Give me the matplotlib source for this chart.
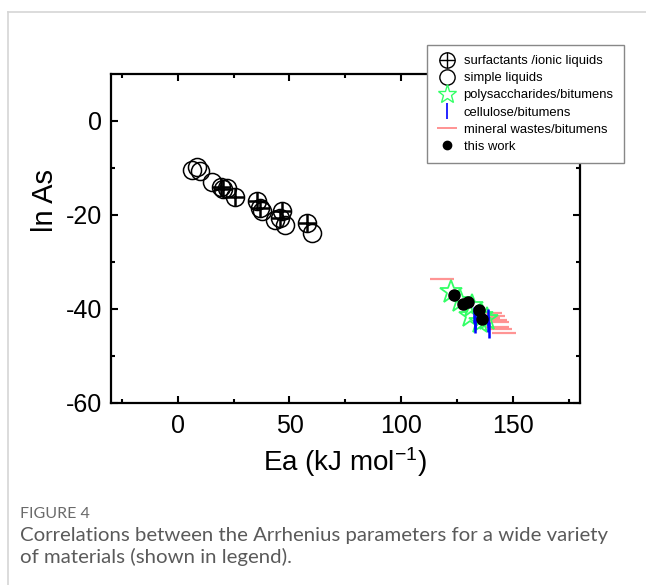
import matplotlib
matplotlib.use("Agg")
import matplotlib.pyplot as plt
from matplotlib.lines import Line2D
from matplotlib.legend_handler import HandlerTuple

plt.rcParams['font.family'] = ['Liberation Sans', 'DejaVu Sans']
plt.rcParams['mathtext.fontset'] = 'custom'
plt.rcParams['mathtext.rm'] = 'Liberation Sans'
plt.rcParams['mathtext.it'] = 'Liberation Sans:italic'
plt.rcParams['axes.unicode_minus'] = False

# ---- data ----
simple_x = [6.3, 8.5, 10.0, 15.2, 21.9, 37.6, 43.6, 48.0, 60.0]
simple_y = [-10.4, -9.7, -10.6, -12.9, -14.3, -19.2, -21.0, -22.1, -23.8]

surf_x = [19.2, 20.3, 25.6, 35.4, 36.8, 46.6, 45.8, 57.7]
surf_y = [-14.1, -14.4, -16.1, -17.1, -18.5, -19.2, -20.6, -21.7]

poly_x = [122.2, 126.4, 131.6, 130.8, 136.1, 135.3, 138.5]
poly_y = [-36.5, -38.3, -39.5, -41.5, -41.5, -42.9, -42.2]

cell_x = [132.6, 132.8, 133.0, 138.9, 139.0, 139.1]
cell_y = [-41.4, -42.6, -43.5, -41.8, -43.3, -44.6]

min_x = [118.2, 139.8, 141.1, 142.0, 143.0, 143.0, 144.0, 146.0, 139.0]
min_y = [-33.6, -40.8, -41.5, -42.3, -42.8, -43.9, -44.3, -45.2, -42.0]

work_x = [123.4, 127.8, 130.1, 134.6, 136.1]
work_y = [-37.1, -39.0, -38.5, -40.2, -42.2]

xlim = (-30, 180)
ylim = (-60, 10)
xticks = [0, 50, 100, 150]
yticks = [0, -20, -40, -60]

W, H = 646, 585
fig = plt.figure(figsize=(W / 100, H / 100), dpi=100)
ax = fig.add_axes([110.7 / W, 1 - 402.7 / H, (580 - 110.7) / W, (402.7 - 74) / H])

green = '#33FF66'
ms = 13

# mineral wastes
ax.plot(min_x, min_y, ls='none', marker='_', ms=17, mew=1.6, color='#FF7070', alpha=0.75)
# polysaccharides
ax.plot(poly_x, poly_y, ls='none', marker='*', ms=17, mfc='none', mec=green, mew=1.3)
# cellulose
ax.plot(cell_x, cell_y, ls='none', marker='|', ms=12, mew=1.8, color='#0000FF')
# simple liquids
ax.plot(simple_x, simple_y, ls='none', marker='o', ms=ms, mfc='none', mec='black', mew=1.1)
# surfactants
ax.plot(surf_x, surf_y, ls='none', marker='o', ms=ms, mfc='none', mec='black', mew=1.1)
ax.plot(surf_x, surf_y, ls='none', marker='+', ms=ms, mec='black', mew=1.8)
# this work
ax.plot(work_x, work_y, ls='none', marker='o', ms=8, color='black')

ax.set_xlim(*xlim)
ax.set_ylim(*ylim)
ax.set_xticks(xticks)
ax.set_yticks(yticks)
ax.set_xticks([-25, 25, 75, 125, 175], minor=True)
ax.set_yticks([-10, -30, -50], minor=True)
ax.tick_params(which='both', direction='in', top=True, right=True, width=1.5)
ax.tick_params(which='major', length=5, labelsize=18)
ax.tick_params(which='minor', length=3)
ax.tick_params(axis='x', pad=8)
ax.tick_params(axis='y', pad=6)
for s in ax.spines.values():
    s.set_linewidth(1.6)

fig.text(345 / W, 1 - 462 / H, 'Ea (kJ mol$^{-1}$)', fontsize=20, ha='center', va='center')
fig.text(45 / W, 1 - 200 / H, 'ln As', fontsize=21, ha='center', va='center', rotation=90)

# legend
h_surf = (Line2D([], [], ls='none', marker='o', ms=11, mfc='none', mec='black', mew=1.0),
          Line2D([], [], ls='none', marker='+', ms=11, mec='black', mew=1.0))
h_simple = Line2D([], [], ls='none', marker='o', ms=11, mfc='none', mec='black', mew=1.0)
h_poly = Line2D([], [], ls='none', marker='*', ms=14, mfc='none', mec=green, mew=1.0)
h_cell = Line2D([], [], ls='none', marker='|', ms=12, mew=1.2, color='#0000FF')
h_min = Line2D([], [], ls='none', marker='_', ms=14, mew=1.2, color='#FF8080')
h_work = Line2D([], [], ls='none', marker='o', ms=6, color='black')
leg = fig.legend([h_surf, h_simple, h_poly, h_cell, h_min, h_work],
                 ['surfactants /ionic liquids', 'simple liquids', 'polysaccharides/bitumens',
                  'cellulose/bitumens', 'mineral wastes/bitumens', 'this work'],
                 handler_map={tuple: HandlerTuple(ndivide=1, pad=0)},
                 loc='upper left', bbox_to_anchor=(427 / W, 1 - 44.7 / H),
                 fontsize=9.4, frameon=True, fancybox=False, edgecolor='#888888',
                 framealpha=1, handlelength=1.4, handletextpad=0.6, labelspacing=0.38,
                 borderpad=0.8, borderaxespad=0)
leg.get_frame().set_linewidth(1.0)

# page frame lines
fig.add_artist(Line2D([8 / W, 1], [1 - 12 / H, 1 - 12 / H], color='#d5d5d5', lw=1.2))
fig.add_artist(Line2D([8 / W, 8 / W], [0, 1 - 12 / H], color='#d5d5d5', lw=1.2))

# caption
fig.text(20 / W, 1 - 514 / H, 'FIGURE 4', fontsize=11.5, color='#6a6a6a', va='center',
         family=['Lato', 'DejaVu Sans'])
fig.text(20 / W, 1 - 535 / H, 'Correlations between the Arrhenius parameters for a wide variety',
         fontsize=14.7, color='#5a5a5a', va='center', family=['Lato', 'DejaVu Sans'])
fig.text(20 / W, 1 - 557 / H, 'of materials (shown in legend).',
         fontsize=14.7, color='#5a5a5a', va='center', family=['Lato', 'DejaVu Sans'])

fig.savefig('out.png', dpi=100)
